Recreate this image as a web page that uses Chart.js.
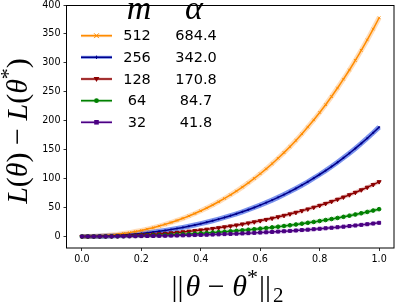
<!DOCTYPE html>
<html>
<head>
<meta charset="utf-8">
<script src="https://cdn.jsdelivr.net/npm/chart.js@4.4.0/dist/chart.umd.min.js"></script>
<style>
  html, body { margin: 0; padding: 0; background: #fff; }
  canvas { display: block; }
</style>
</head>
<body>
<canvas id="lossChart" width="399" height="305"></canvas>
<script>
// --- data ---
const thetaDist = [0, 0.02, 0.04, 0.06, 0.08, 0.10, 0.12, 0.14, 0.16, 0.18,
  0.20, 0.22, 0.24, 0.26, 0.28, 0.30, 0.32, 0.34, 0.36, 0.38,
  0.40, 0.42, 0.44, 0.46, 0.48, 0.50, 0.52, 0.54, 0.56, 0.58,
  0.60, 0.62, 0.64, 0.66, 0.68, 0.70, 0.72, 0.74, 0.76, 0.78,
  0.80, 0.82, 0.84, 0.86, 0.88, 0.90, 0.92, 0.94, 0.96, 0.98, 1.00];

const lossM512 = [0, 0.1, 0.4, 0.9, 1.7, 2.6, 3.7, 5.1, 6.7, 8.5,
  10.5, 12.8, 15.3, 18.0, 21.0, 24.2, 27.7, 31.4, 35.5, 39.8,
  44.4, 49.3, 54.5, 60.0, 65.8, 72.0, 78.5, 85.4, 92.7, 100.4,
  108.4, 116.9, 125.8, 135.2, 145.0, 155.2, 166.0, 177.3, 189.1, 201.4,
  214.3, 227.7, 241.8, 256.5, 271.8, 287.7, 304.3, 321.7, 339.7, 358.5, 378.0];

const lossM256 = [0, 0.05, 0.21, 0.47, 0.83, 1.30, 1.87, 2.55, 3.34, 4.25,
  5.26, 6.39, 7.63, 9.00, 10.49, 12.10, 13.84, 15.72, 17.73, 19.88,
  22.18, 24.63, 27.23, 29.99, 32.91, 36.0, 39.27, 42.72, 46.36, 50.19,
  54.22, 58.46, 62.91, 67.58, 72.48, 77.62, 83.0, 88.63, 94.53, 100.70,
  107.14, 113.87, 120.90, 128.23, 135.88, 143.86, 152.17, 160.83, 169.85, 179.24, 189.0];

const lossM128 = [0, 0.03, 0.10, 0.23, 0.42, 0.65, 0.94, 1.28, 1.67, 2.12,
  2.63, 3.19, 3.82, 4.50, 5.24, 6.05, 6.92, 7.86, 8.86, 9.94,
  11.09, 12.31, 13.61, 14.99, 16.45, 18.0, 19.64, 21.36, 23.18, 25.09,
  27.11, 29.23, 31.45, 33.79, 36.24, 38.81, 41.50, 44.32, 47.27, 50.35,
  53.57, 56.93, 60.45, 64.12, 67.94, 71.93, 76.09, 80.42, 84.92, 89.62, 94.5];

const lossM64 = [0, 0.01, 0.05, 0.12, 0.21, 0.32, 0.47, 0.64, 0.84, 1.06,
  1.31, 1.60, 1.91, 2.25, 2.62, 3.02, 3.46, 3.93, 4.43, 4.97,
  5.54, 6.16, 6.81, 7.50, 8.23, 9.0, 9.82, 10.68, 11.59, 12.55,
  13.55, 14.61, 15.73, 16.89, 18.12, 19.40, 20.75, 22.16, 23.63, 25.17,
  26.78, 28.47, 30.22, 32.06, 33.97, 35.96, 38.04, 40.21, 42.46, 44.81, 47.25];

const lossM32 = [0, 0.01, 0.03, 0.06, 0.10, 0.16, 0.23, 0.32, 0.42, 0.53,
  0.66, 0.80, 0.95, 1.12, 1.31, 1.51, 1.73, 1.96, 2.22, 2.49,
  2.77, 3.08, 3.40, 3.75, 4.11, 4.5, 4.91, 5.34, 5.79, 6.27,
  6.78, 7.31, 7.86, 8.45, 9.06, 9.70, 10.37, 11.08, 11.82, 12.59,
  13.39, 14.23, 15.11, 16.03, 16.99, 17.98, 19.02, 20.10, 21.23, 22.40, 23.63];

const mLabels = ['512', '256', '128', '64', '32'];
const alphaLabels = ['684.4', '342.0', '170.8', '84.7', '41.8'];
const xTickVals = [0, 0.2, 0.4, 0.6, 0.8, 1.0];
const yTickVals = [0, 50, 100, 150, 200, 250, 300, 350, 400];

// --- styling per series (matplotlib-like) ---
const seriesStyle = [
  { color: '#ff8c00', band: 'rgba(255,150,40,0.32)', bandW: 5, marker: 'crossRot', r: 1.8, rot: 0 },
  { color: '#00008b', band: 'rgba(35,75,225,0.6)', bandW: 5, marker: 'cross', r: 1.1, rot: 0 },
  { color: '#8b0000', band: 'rgba(190,40,40,0.28)', bandW: 4, marker: 'triangle', r: 2.3, rot: 180 },
  { color: '#008000', band: 'rgba(40,150,40,0.28)', bandW: 4, marker: 'circle', r: 1.8, rot: 0 },
  { color: '#4b0082', band: 'rgba(140,70,200,0.32)', bandW: 4, marker: 'rect', r: 2.1, rot: 0 }
];
const allSeries = [lossM512, lossM256, lossM128, lossM64, lossM32];

const datasets = [];
allSeries.forEach((vals, i) => {
  const pts = thetaDist.map((x, k) => ({ x: x, y: vals[k] }));
  const st = seriesStyle[i];
  // translucent band under each line
  datasets.push({
    data: pts, borderColor: st.band, borderWidth: st.bandW,
    pointRadius: 0, order: 10, tension: 0
  });
  datasets.push({
    data: pts, borderColor: st.color, borderWidth: 1.5, tension: 0,
    pointStyle: st.marker, pointRadius: st.r, pointRotation: st.rot,
    pointBackgroundColor: st.color, pointBorderColor: st.color, pointBorderWidth: 1,
    order: 5 - i
  });
});

// --- helpers for the mathtext-like labels ---
const SERIF = '"Liberation Serif", "DejaVu Serif", serif';
function runFont(r) {
  return (r.it ? 'italic ' : '') + r.size + 'px ' + SERIF;
}
function runsWidth(ctx, runs) {
  let w = 0;
  runs.forEach(r => { ctx.font = runFont(r); w += ctx.measureText(r.t).width + (r.gap || 0); });
  return w;
}
function drawRuns(ctx, runs, cx, baseY) {
  let x = cx - runsWidth(ctx, runs) / 2;
  runs.forEach(r => {
    ctx.font = runFont(r);
    ctx.fillText(r.t, x, baseY + (r.dy || 0));
    x += ctx.measureText(r.t).width + (r.gap || 0);
  });
}

function drawMarker(ctx, st, x, y) {
  const r = st.r + 0.6;
  ctx.fillStyle = st.color;
  ctx.strokeStyle = st.color;
  ctx.lineWidth = 1;
  ctx.beginPath();
  if (st.marker === 'crossRot') {
    ctx.moveTo(x - r, y - r); ctx.lineTo(x + r, y + r);
    ctx.moveTo(x - r, y + r); ctx.lineTo(x + r, y - r); ctx.stroke();
  } else if (st.marker === 'cross') {
    ctx.moveTo(x - r, y); ctx.lineTo(x + r, y);
    ctx.moveTo(x, y - r); ctx.lineTo(x, y + r); ctx.stroke();
  } else if (st.marker === 'triangle') {
    ctx.moveTo(x - r, y - r * 0.7); ctx.lineTo(x + r, y - r * 0.7); ctx.lineTo(x, y + r); ctx.closePath(); ctx.fill();
  } else if (st.marker === 'circle') {
    ctx.arc(x, y, r, 0, Math.PI * 2); ctx.fill();
  } else {
    ctx.rect(x - r * 0.85, y - r * 0.85, r * 1.7, r * 1.7); ctx.fill();
  }
}

// frame, axis titles and the two-column legend
const decorPlugin = {
  id: 'decor',
  afterDraw(chart) {
    const ctx = chart.ctx;
    const a = chart.chartArea;
    ctx.save();
    ctx.strokeStyle = '#000';
    ctx.lineWidth = 1;
    ctx.strokeRect(Math.round(a.left) - 0.5, Math.round(a.top) + 0.5,
      Math.round(a.right - a.left) + 0.5, Math.round(a.bottom - a.top) - 0.5);

    ctx.fillStyle = '#000';
    ctx.textBaseline = 'alphabetic';

    // x title: ||theta - theta*||_2
    const xRuns = [
      { t: '||', size: 30, gap: 2 },
      { t: 'θ', it: true, size: 30 },
      { t: ' − ', size: 30 },
      { t: 'θ', it: true, size: 30 },
      { t: '*', size: 22, dy: -12, gap: 1 },
      { t: '||', size: 30, gap: 2 },
      { t: '2', size: 21, dy: 6 }
    ];
    drawRuns(ctx, xRuns, (a.left + a.right) / 2 - 3, 296);

    // y title: L(theta) - L(theta*)
    const yRuns = [
      { t: 'L', it: true, size: 30 },
      { t: '(', size: 30 },
      { t: 'θ', it: true, size: 30 },
      { t: ')', size: 30 },
      { t: ' − ', size: 30 },
      { t: 'L', it: true, size: 30 },
      { t: '(', size: 30 },
      { t: 'θ', it: true, size: 30 },
      { t: '*', size: 22, dy: -12 },
      { t: ')', size: 30 }
    ];
    ctx.save();
    ctx.translate(27, 131);
    ctx.rotate(-Math.PI / 2);
    drawRuns(ctx, yRuns, 0, 0);
    ctx.restore();

    // legend
    const colM = 137, colA = 196;
    ctx.textAlign = 'center';
    ctx.font = 'italic 34px ' + SERIF;
    ctx.fillText('m', colM + 2, 19);
    ctx.fillText('α', colA - 2, 19);
    ctx.font = '14.5px "DejaVu Sans", sans-serif';
    ctx.textBaseline = 'middle';
    const rowY = [35.7, 57.3, 79, 100.7, 122.3];
    seriesStyle.forEach((st, i) => {
      const y = rowY[i];
      ctx.strokeStyle = st.band;
      ctx.lineWidth = 3;
      ctx.beginPath();
      ctx.moveTo(81, y); ctx.lineTo(112, y); ctx.stroke();
      ctx.strokeStyle = st.color;
      ctx.lineWidth = 1.5;
      ctx.beginPath();
      ctx.moveTo(81, y); ctx.lineTo(112, y); ctx.stroke();
      drawMarker(ctx, st, 96.5, y);
      ctx.fillStyle = '#000';
      ctx.fillText(mLabels[i], colM, y + 1);
      ctx.fillText(alphaLabels[i], colA, y + 1);
    });
    ctx.restore();
  }
};

const tickFont = { family: '"DejaVu Sans", sans-serif', size: 9.6 };

new Chart(document.getElementById('lossChart'), {
  type: 'line',
  data: { datasets: datasets },
  options: {
    responsive: false,
    animation: false,
    devicePixelRatio: 1,
    layout: { padding: { left: 0, right: 1, top: 2.5, bottom: 0 } },
    plugins: { legend: { display: false }, tooltip: { enabled: false } },
    scales: {
      x: {
        type: 'linear', min: -0.05, max: 1.05,
        afterBuildTicks: s => { s.ticks = xTickVals.map(v => ({ value: v })); },
        afterFit: s => { s.height = 57.5; s.paddingLeft = 0; s.paddingRight = 0; },
        ticks: {
          font: tickFont, color: '#000', padding: 3, maxRotation: 0,
          callback: v => v.toFixed(1)
        },
        grid: { drawOnChartArea: false, drawTicks: true, tickLength: 3.5, color: '#000', lineWidth: 0.8 },
        border: { display: false }
      },
      y: {
        type: 'linear', min: -19, max: 400,
        afterBuildTicks: s => { s.ticks = yTickVals.map(v => ({ value: v })); },
        afterFit: s => { s.width = 67; s.paddingTop = 0; s.paddingBottom = 0; },
        ticks: { font: tickFont, color: '#000', padding: 3, callback: v => String(v) },
        grid: { drawOnChartArea: false, drawTicks: true, tickLength: 3.5, color: '#000', lineWidth: 0.8 },
        border: { display: false }
      }
    }
  },
  plugins: [decorPlugin]
});
</script>
</body>
</html>
